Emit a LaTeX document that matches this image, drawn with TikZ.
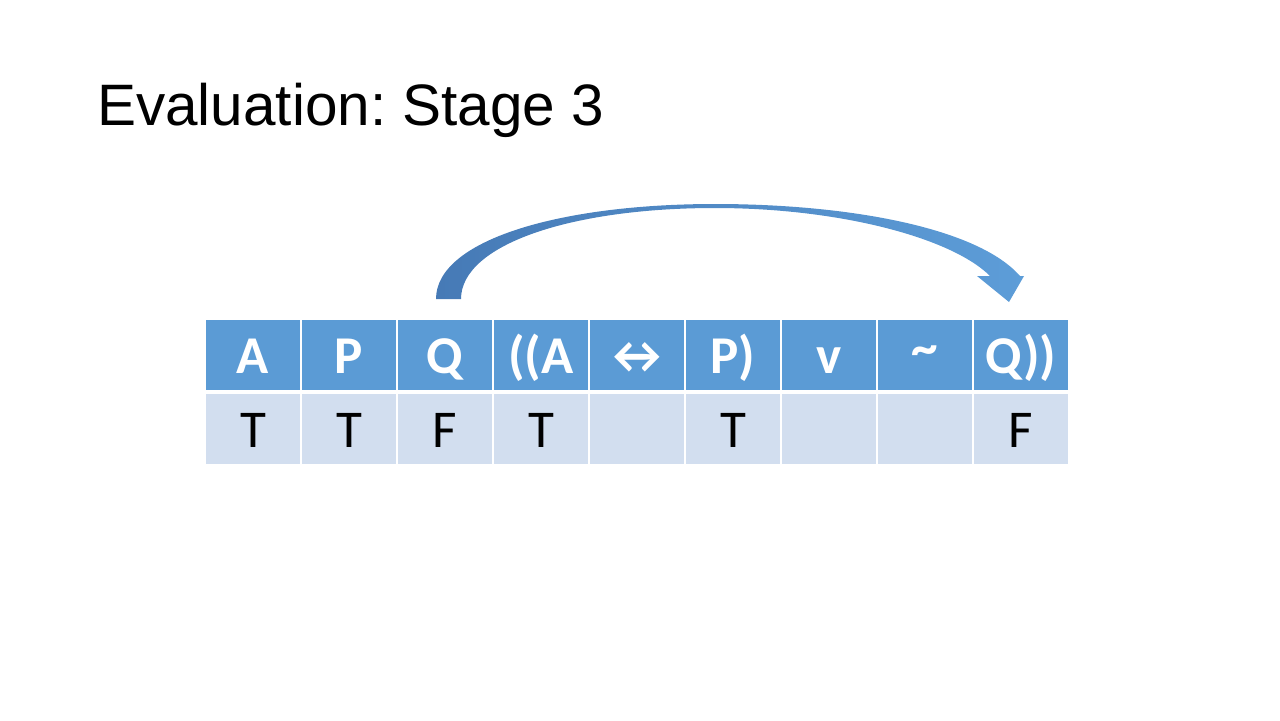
\documentclass[tikz,border=0pt]{standalone}
\usepackage{fontspec}
\setmainfont{Liberation Sans}
\newfontfamily\cellfont{Carlito}
\usepackage{xcolor}
\definecolor{headblue}{RGB}{91,155,213}
\definecolor{rowblue}{RGB}{210,222,239}
\definecolor{arrowdark}{RGB}{70,122,182}
\definecolor{arrowlight}{RGB}{93,157,216}
\usetikzlibrary{positioning}
\frenchspacing

\begin{document}
\begin{tikzpicture}[x=0.75bp,y=-0.75bp,
    cell/.style={draw=white,line width=1.5bp,minimum width=72bp,minimum height=54bp,
      inner sep=0pt,text height=27bp,text depth=0pt,font=\cellfont\fontsize{40}{48}\selectfont},
    headcell/.style={cell,fill=headblue,text=white,font=\cellfont\bfseries\fontsize{40}{48}\selectfont},
    valcell/.style={cell,fill=rowblue,text=black}]
  \useasboundingbox (0,0) rectangle (1280,720);
  \node[anchor=base west,inner sep=0pt,font=\fontsize{44}{53}\selectfont] (title) at (97,125) {Evaluation: Stage 3};
  % header row and values
  \foreach \i/\h/\v in {1/A/T,2/P/T,3/Q/F,4/((A/T,5/↔/,6/P)/T,7/v/,8/\raisebox{6bp}{\textasciitilde}/,9/Q))/F}{
    \node[headcell] (h\i) at ({157+96*\i},355) {\h};
    \node[valcell,below=0pt of h\i] (v\i) {\v};
  }
  % curved arrow from Q to Q))
  \shade[left color=arrowdark,right color=arrowlight]
    (436,299) .. controls (436,240) and (560,204) .. (715,204)
    .. controls (850,204) and (978,228) .. (1020,276)
    -- (1024,276) -- (1009,302) -- (977,276) -- (990,276)
    .. controls (952,238) and (840,208) .. (715,208)
    .. controls (570,208) and (461,245) .. (461,299) -- cycle;
\end{tikzpicture}
\end{document}
